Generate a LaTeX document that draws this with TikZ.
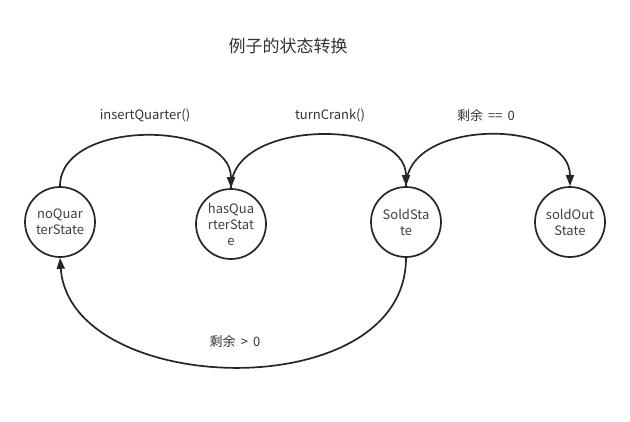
\documentclass[tikz,border=0pt]{standalone}
\usepackage{fontspec}
\setmainfont{Noto Sans CJK SC}
\usetikzlibrary{arrows.meta}
\tikzset{
	state/.style={circle, draw=black!85, line width=1.7pt, minimum size=70pt, inner sep=0pt, align=center, font=\fontsize{13}{16}\selectfont, text=black!75},
	trans/.style={line width=1.7pt, draw=black!85, -{Triangle[width=8pt,length=11pt]}},
	lbl/.style={font=\fontsize{13}{16}\selectfont, text=black!80}
}
\begin{document}
\begin{tikzpicture}[x=1pt,y=-1pt]
			%%%%% START %%%%%
			
			\useasboundingbox (0,0) rectangle (630,421);
			
			\node[font=\fontsize{17}{20}\selectfont, text=black!80] (title) at (288, 46) {例子的状态转换};
			
			\node[state] (noQ) at (60, 222) {noQuar\\terState};
			\node[state] (hasQ) at (231, 224) {hasQua\\rterStat\\e};
			\node[state] (sold) at (406, 222) {SoldSta\\te};
			\node[state] (soldOut) at (570, 222) {soldOut\\State};
			
			\node[lbl] (lbInsert) at (145, 115) {insertQuarter()};
			\node[lbl] (lbCrank) at (330, 115) {turnCrank()};
			\node[lbl] (lbEmpty) at (486, 115) {剩余 \,==\, 0};
			\node[lbl] (lbLeft) at (235, 341) {剩余 \,>\, 0};
			
			\draw[trans] (noQ.north) .. controls +(0,-68) and +(0,-68) .. (hasQ.north);
			\draw[trans] (hasQ.north) .. controls +(0,-70) and +(0,-68) .. (sold.north);
			\draw[trans] (sold.south) .. controls +(0,150) and +(10,140) .. (noQ.south);
			\draw[trans] (sold.north) .. controls +(0,-68) and +(0,-68) .. (soldOut.north);
			
			%%%%% END %%%%%
\end{tikzpicture}
\end{document}
